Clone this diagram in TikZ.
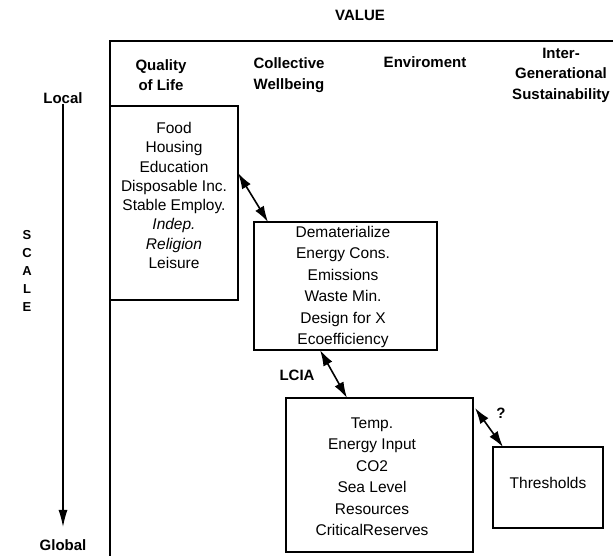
\documentclass[tikz,border=0pt]{standalone}
\usepackage{fontspec}
\setmainfont{Liberation Sans}
\usetikzlibrary{arrows.meta}
\begin{document}
\begin{tikzpicture}[x=1pt,y=-1pt,
  line width=1.1pt,
  txt/.style={font=\fontsize{15.5}{19}\selectfont, inner sep=0pt, align=center},
  head/.style={font=\fontsize{15}{20.5}\selectfont\bfseries, inner sep=0pt, align=center},
  listA/.style={font=\fontsize{15.5}{19.3}\selectfont, inner sep=0pt, align=center},
  listB/.style={font=\fontsize{15.5}{21.5}\selectfont, inner sep=0pt, align=center},
  panel/.style={draw, rectangle, inner sep=0pt, outer sep=0pt},
  dblarrow/.style={{Latex[length=16pt,width=10pt]}-{Latex[length=16pt,width=10pt]}, line width=1.6pt},
]
\useasboundingbox (0,0) rectangle (613,556);

% value axis frame
\draw (613,41) -- (110,41) -- (110,556);

% column headings
\node[head] (value) at (360,15) {VALUE};
\node[head] (qol) at (161,75) {Quality\\of Life};
\node[head] (cwb) at (289,75) {Collective\\Wellbeing};
\node[head] (env) at (425,62) {Enviroment};
\node[head] (igs) at (561,75) {Inter-\\Generational\\Sustainability};

% scale axis
\node[head] (local) at (63,98) {Local};
\node[head] (global) at (63,545) {Global};
\draw[-{Latex[length=17pt,width=9pt]}, line width=1.2pt, shorten >=12pt] (local.south) -- (global.north);
\node[head, font=\fontsize{13}{18}\selectfont\bfseries] (scale) at (27,271) {S\\C\\A\\L\\E};

% indicator panels
\node[panel, minimum width=128pt, minimum height=194pt] (b1) at (174,203) {};
\node[listA] (t1) at (174,195.5) {Food\\Housing\\Education\\Disposable Inc.\\Stable Employ.\\\textit{Indep.}\\\textit{Religion}\\Leisure};

\node[panel, minimum width=183pt, minimum height=128pt] (b2) at (345.5,286) {};
\node[listB] (t2) at (343,287) {Dematerialize\\Energy Cons.\\Emissions\\Waste Min.\\Design for X\\Ecoefficiency};

\node[panel, minimum width=187pt, minimum height=154pt] (b3) at (379.5,475) {};
\node[listB] (t3) at (372,476.5) {Temp.\\Energy Input\\CO2\\Sea Level\\Resources\\CriticalReserves};

\node[panel, minimum width=110pt, minimum height=81pt] (b4) at (548,487.5) {};
\node[txt] (t4) at (548,483) {Thresholds};

% links between panels
\draw[dblarrow] ([yshift=30pt]b1.east) -- ([xshift=-77.5pt]b2.north);
\draw[dblarrow] ([xshift=-25.5pt]b2.south) -- ([xshift=-32.5pt]b3.north);
\draw[dblarrow] ([xshift=2pt,yshift=-10pt]b3.north east) -- ([xshift=10pt]b4.north west);

\node[head] (lcia) at (297,375) {LCIA};
\node[head] (q) at (501,413) {?};
\end{tikzpicture}
\end{document}
